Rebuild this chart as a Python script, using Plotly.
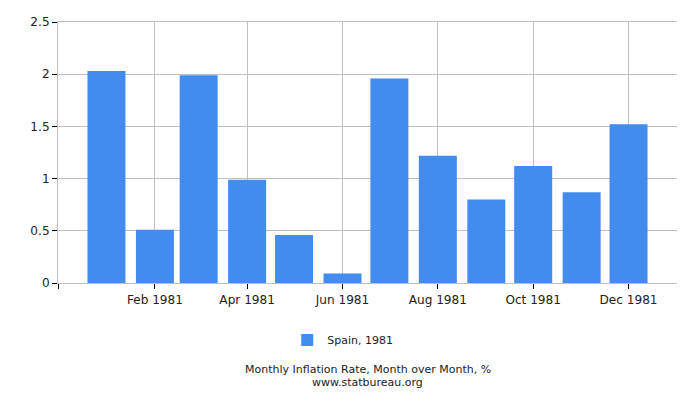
import plotly.graph_objs as go

# Data
months = ["1981-01-01", "1981-02-01", "1981-03-01", "1981-04-01", "1981-05-01", "1981-06-01",
          "1981-07-01", "1981-08-01", "1981-09-01", "1981-10-01", "1981-11-01", "1981-12-01"]
inflation = [2.03, 0.51, 1.99, 0.99, 0.46, 0.09, 1.96, 1.22, 0.80, 1.12, 0.87, 1.52]
tick_dates = ["1980-12-01", "1981-02-01", "1981-04-01", "1981-06-01", "1981-08-01", "1981-10-01", "1981-12-01"]
tick_labels = ["", "Feb 1981", "Apr 1981", "Jun 1981", "Aug 1981", "Oct 1981", "Dec 1981"]
y_ticks = [0, 0.5, 1, 1.5, 2, 2.5]
y_labels = ["0", "0.5", "1", "1.5", "2", "2.5"]

DAY_MS = 24 * 3600 * 1000

fig = go.Figure(go.Bar(x=months, y=inflation, name="Spain, 1981",
                       marker=dict(color="#428bef", line=dict(width=0)),
                       width=24.3 * DAY_MS))

fig.update_layout(width=700, height=400, plot_bgcolor="white", paper_bgcolor="white",
                  font=dict(family="DejaVu Sans", size=12.1, color="#222222"),
                  margin=dict(l=58, r=23, t=22, b=117),
                  showlegend=True,
                  legend=dict(orientation="h", x=0.46, xanchor="center", y=-0.218, yanchor="middle",
                              font=dict(size=11)),
                  annotations=[dict(text="Monthly Inflation Rate, Month over Month, %",
                                    xref="paper", yref="paper", x=0.5, y=-0.331, yanchor="middle",
                                    showarrow=False, font=dict(size=11)),
                               dict(text="www.statbureau.org",
                                    xref="paper", yref="paper", x=0.5, y=-0.381, yanchor="middle",
                                    showarrow=False, font=dict(size=11))])
fig.update_xaxes(type="date", range=["1980-12-01", "1982-01-01"], tickvals=tick_dates, ticktext=tick_labels,
                 showgrid=True, gridcolor="#c0c0c0", ticks="outside", ticklen=5, tickcolor="black",
                 showline=True, linecolor="#c0c0c0", mirror=True, zeroline=False)
fig.update_yaxes(range=[0, 2.5], tickvals=y_ticks, ticktext=y_labels,
                 showgrid=True, gridcolor="#c0c0c0", ticks="outside", ticklen=5, tickcolor="black",
                 showline=True, linecolor="#c0c0c0", zeroline=False)

# drop the default body margin so the 700x400 figure fits the window exactly
fig.write_html("out.html", config={"displayModeBar": False},
               post_script="document.body.style.margin = '0';")
